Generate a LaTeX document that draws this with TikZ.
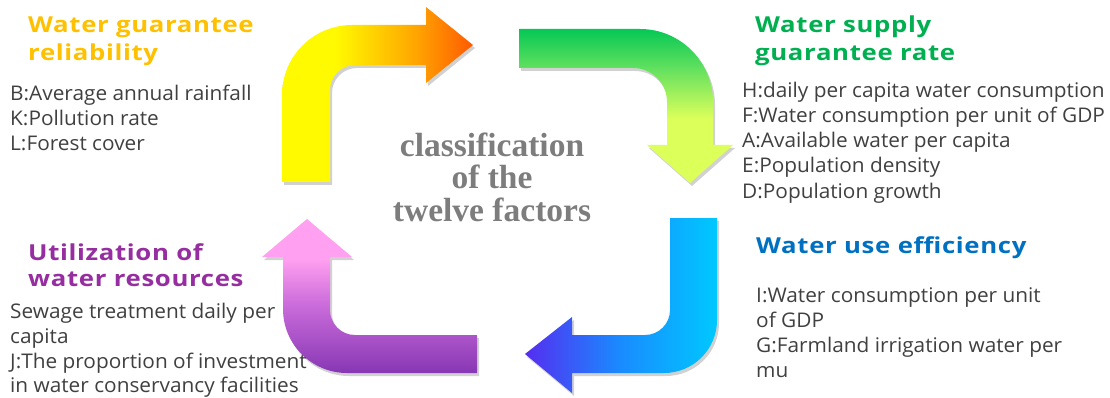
\documentclass[tikz,border=0pt]{standalone}
\usepackage{fontspec}
\newfontfamily\titlefont[FakeStretch=1.17,LetterSpace=3]{Open Sans Bold}
\newfontfamily\bodyfont[FakeStretch=1.03]{Open Sans}
\newfontfamily\ctrfont{Liberation Serif Bold}
\definecolor{ttlA}{RGB}{255,192,0}
\definecolor{ttlB}{RGB}{0,176,80}
\definecolor{ttlC}{RGB}{0,112,192}
\definecolor{ttlD}{RGB}{150,45,160}
\definecolor{bodygray}{RGB}{64,64,64}
\definecolor{ctrgray}{RGB}{125,125,125}
% arrow colours
\definecolor{aY}{RGB}{255,250,0}
\definecolor{aO}{RGB}{255,165,0}
\definecolor{aR}{RGB}{255,90,0}
\definecolor{gT}{RGB}{5,200,85}
\definecolor{gM}{RGB}{100,225,95}
\definecolor{gB}{RGB}{220,255,90}
\definecolor{bL}{RGB}{85,45,240}
\definecolor{bM}{RGB}{25,140,255}
\definecolor{bR}{RGB}{0,200,255}
\definecolor{pB}{RGB}{135,55,180}
\definecolor{pM}{RGB}{205,110,220}
\definecolor{pT}{RGB}{255,160,240}
\pgfdeclarehorizontalshading{shA}{100bp}{color(0bp)=(aY); color(25bp)=(aY); color(39bp)=(aY); color(60bp)=(aO); color(75bp)=(aR); color(100bp)=(aR)}
\pgfdeclareverticalshading{shB}{100bp}{color(0bp)=(gB); color(25bp)=(gB); color(46bp)=(gB); color(62bp)=(gM); color(75bp)=(gT); color(100bp)=(gT)}
\pgfdeclarehorizontalshading{shC}{100bp}{color(0bp)=(bL); color(25bp)=(bL); color(50bp)=(bM); color(75bp)=(bR); color(100bp)=(bR)}
\pgfdeclareverticalshading{shD}{100bp}{color(0bp)=(pB); color(25bp)=(pB); color(48bp)=(pM); color(62bp)=(pT); color(75bp)=(pT); color(100bp)=(pT)}
\tikzset{
  ttl/.style={font=\titlefont\fontsize{22}{26}\selectfont, anchor=base west, inner sep=0pt},
  bd/.style={font=\bodyfont\fontsize{20.2}{25}\selectfont, text=bodygray, anchor=base west, inner sep=0pt},
  ctr/.style={font=\ctrfont\fontsize{33.5}{33.5}\selectfont, text=ctrgray, anchor=base, inner sep=0pt},
  shdw/.style={fill=black, opacity=0.18, shift={(2pt,-3pt)}},
}
\begin{document}
\begin{tikzpicture}[x=1pt,y=-1pt]
\useasboundingbox (0,0) rectangle (1110,398);
% ---------- arrows ----------
\def\arrA{(282,182) -- (282,95) .. controls (282,56.3) and (313.3,25) .. (352,25) -- (426,25) -- (426,7) -- (473,45) -- (426,83) -- (426,65) -- (355,65) .. controls (341.2,65) and (330,76.2) .. (330,90) -- (330,182) -- cycle}
\def\arrB{(519,29) -- (640,29) .. controls (680.3,29) and (713,61.7) .. (713,102) -- (713,145) -- (733,145) -- (690,183) -- (647,145) -- (667,145) -- (667,102) .. controls (667,83.2) and (651.8,68) .. (633,68) -- (519,68) -- cycle}
\def\arrC{(670,218) -- (717,218) -- (717,320) .. controls (717,349.3) and (693.3,373) .. (664,373) -- (572,373) -- (572,393) -- (525,354) -- (572,317) -- (572,335) -- (645,335) .. controls (658.8,335) and (670,323.8) .. (670,310) -- cycle}
\def\arrD{(477,335) -- (477,373) -- (347,373) .. controls (311.7,373) and (283,344.3) .. (283,309) -- (283,257) -- (262,257) -- (307,219) -- (352,257) -- (330,257) -- (330,310) .. controls (330,323.8) and (341.2,335) .. (355,335) -- cycle}
\fill[shdw] \arrA; \shade[shading=shA] \arrA;
\fill[shdw] \arrB; \shade[shading=shB] \arrB;
\fill[shdw] \arrC; \shade[shading=shC] \arrC;
\fill[shdw] \arrD; \shade[shading=shD] \arrD;
% ---------- top left ----------
\node[ttl, text=ttlA] (ta1) at (28,33) {Water guarantee};
\node[ttl, text=ttlA] (ta2) at (28,61) {reliability};
\node[bd] (ba1) at (10,101) {B:Average annual rainfall};
\node[bd] (ba2) at (10,126) {K:Pollution rate};
\node[bd] (ba3) at (10,151) {L:Forest cover};
% ---------- top right ----------
\node[ttl, text=ttlB] (tb1) at (755,33) {Water supply};
\node[ttl, text=ttlB] (tb2) at (755,61) {guarantee rate};
\node[bd] (bb1) at (742,98) {H:daily per capita water consumption};
\node[bd] (bb2) at (742,123) {F:Water consumption per unit of GDP};
\node[bd] (bb3) at (742,148) {A:Available water per capita};
\node[bd] (bb4) at (742,173) {E:Population density};
\node[bd] (bb5) at (742,198) {D:Population growth};
% ---------- bottom right ----------
\node[ttl, text=ttlC] (tc1) at (756,253) {Water use efficiency};
\node[bd] (bc1) at (756,302) {I:Water consumption per unit};
\node[bd] (bc2) at (756,327) {of GDP};
\node[bd] (bc3) at (756,352) {G:Farmland irrigation water per};
\node[bd] (bc4) at (756,377) {mu};
% ---------- bottom left ----------
\node[ttl, text=ttlD] (td1) at (28,260) {Utilization of};
\node[ttl, text=ttlD] (td2) at (28,286) {water resources};
\node[bd] (bd1) at (10,318) {Sewage treatment daily per};
\node[bd] (bd2) at (10,343) {capita};
\node[bd] (bd3) at (10,368) {J:The proportion of investment};
\node[bd] (bd4) at (10,392) {in water conservancy facilities};
% ---------- centre ----------
\node[ctr] (c1) at (492,157) {classification};
\node[ctr] (c2) at (492,189) {of the};
\node[ctr] (c3) at (492,221) {twelve factors};
\end{tikzpicture}
\end{document}
